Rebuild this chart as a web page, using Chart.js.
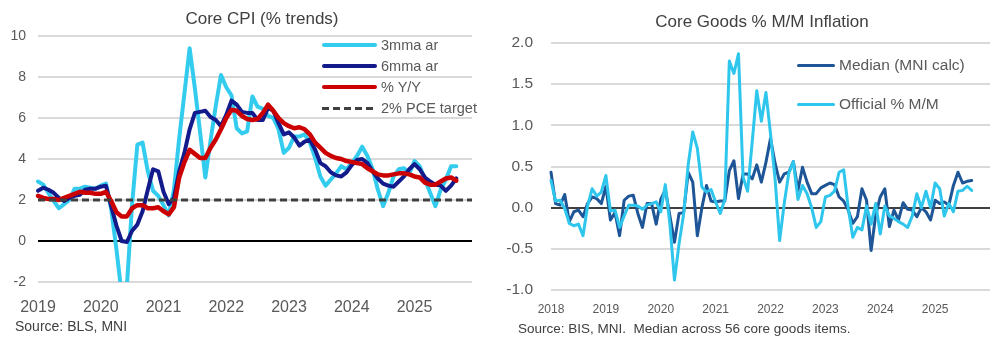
<!DOCTYPE html>
<html><head><meta charset="utf-8">
<script src="https://cdn.jsdelivr.net/npm/chart.js@4.4.1/dist/chart.umd.min.js"></script>
<style>
html,body{margin:0;padding:0;background:#fff;}
body{width:1002px;height:341px;position:relative;overflow:hidden;font-family:"Liberation Sans",Arial,sans-serif;}
#c1{position:absolute;left:0;top:0;}
#c2{position:absolute;left:500px;top:0;}
.title{position:absolute;font-size:17px;line-height:20px;color:#404040;text-align:center;white-space:nowrap;}
.src{position:absolute;line-height:16px;color:#404040;white-space:nowrap;}
.leg{position:absolute;height:20px;display:flex;align-items:center;color:#595959;white-space:nowrap;}
.leg .ln{display:inline-block;flex:none;}
</style></head><body>
<canvas id="c1" width="500" height="341"></canvas>
<canvas id="c2" width="502" height="341"></canvas>
<div class="title" style="left:112px;top:9px;width:300px;">Core CPI (% trends)</div>
<div class="title" style="left:612px;top:12px;width:300px;">Core Goods % M/M Inflation</div>
<div class="src" style="left:15px;top:318px;font-size:14px;">Source: BLS, MNI</div>
<div class="src" style="left:518px;top:321px;font-size:13.5px;">Source: BIS, MNI.&nbsp; Median across 56 core goods items.</div>
<div id="leg1"></div>
<div id="leg2"></div>
<script>
// ---------- Left chart data (monthly, Jan 2019 - Sep 2025) ----------
const leftStartYear = 2019;
const leftMonthCount = 84; // Jan 2019 .. Dec 2025 axis
const cpi3mmaAr = [
  2.9, 2.75, 2.35, 1.95, 1.6, 1.8, 2.0, 2.55, 2.55, 2.65, 2.6, 2.55,
  2.7, 2.8, 1.55, -0.4, -2.6, -2.2, 1.8, 4.7, 4.8, 3.4, 2.45, 2.2,
  1.75, 1.25, 2.5, 5.0, 7.2, 9.4, 7.45, 5.3, 3.1, 4.9, 6.6, 8.1,
  7.5, 7.1, 5.5, 5.25, 5.35, 7.05, 6.55, 6.45, 6.1, 6.0, 5.45, 4.3,
  4.55, 5.1, 5.1, 5.2, 4.8, 4.05, 3.15, 2.7, 3.0, 3.3, 3.65, 3.5,
  3.8, 4.15, 4.6, 4.15, 3.5, 2.5, 1.7, 2.35, 3.15, 3.5, 3.55, 3.3,
  3.9, 3.65, 3.0, 2.35, 1.7, 2.5, 3.0, 3.65, 3.65
];
const cpi6mmaAr = [
  2.45, 2.6, 2.5, 2.35, 2.1, 1.95, 2.1, 2.2, 2.25, 2.5, 2.55, 2.55,
  2.65, 2.7, 1.7, 0.75, 0.0, -0.05, 0.5, 0.8, 1.45, 2.5, 3.5, 3.4,
  2.4, 1.8, 2.1, 3.4, 4.3, 5.45, 6.25, 6.3, 6.35, 6.05, 5.9, 5.6,
  6.15, 6.85, 6.65, 6.3, 6.25, 6.25, 5.9, 5.9, 6.5, 6.35, 5.75, 5.2,
  5.3, 5.05, 4.65, 4.85, 4.95, 4.45, 3.8, 3.65, 3.35, 3.2, 3.15, 3.35,
  3.7, 3.95, 4.0, 3.8, 3.4, 3.05, 2.8, 2.7, 2.65, 2.9, 3.15, 3.5,
  3.75, 3.5, 3.1, 2.9, 2.75, 2.7, 2.45, 2.7, 3.05
];
const cpiYoY = [
  2.2, 2.1, 2.05, 2.05, 2.0, 2.1, 2.2, 2.3, 2.4, 2.35, 2.35, 2.3,
  2.3, 2.4, 1.95, 1.4, 1.2, 1.2, 1.6, 1.75, 1.75, 1.6, 1.6, 1.65,
  1.45, 1.3, 1.65, 3.1, 3.85, 4.45, 4.25, 4.05, 4.05, 4.55, 4.95, 5.45,
  6.0, 6.4, 6.35, 6.1, 5.95, 5.9, 5.95, 6.25, 6.65, 6.35, 6.0, 5.75,
  5.6, 5.5, 5.55, 5.45, 5.2, 4.8, 4.55, 4.3, 4.15, 4.05, 4.0, 3.9,
  3.85, 3.8, 3.75, 3.55, 3.4, 3.25, 3.2, 3.2, 3.25, 3.3, 3.3, 3.25,
  3.15, 3.1, 2.85, 2.75, 2.75, 2.9, 3.05, 3.1, 2.95
];
const pceTarget = 2;
const leftYTicks = [-2, 0, 2, 4, 6, 8, 10];

// ---------- Right chart data (monthly, Jan 2018 - Sep 2025) ----------
const rightStartYear = 2018;
const rightMonthCount = 97; // Jan 2018 .. Jan 2026 axis
const goodsMedian = [
  0.43, 0.05, 0.03, 0.16, -0.17, -0.05, -0.03, -0.11, 0.05, 0.13, 0.11, 0.05,
  0.26, -0.15, -0.06, -0.34, 0.09, 0.14, 0.15, -0.07, -0.24, 0.05, 0.05, -0.2,
  0.1, 0.22, -0.1, -0.42, -0.07, -0.06, 0.43, 0.31, -0.34, 0.0, 0.27, 0.08,
  0.07, 0.08, 0.08, 0.45, 0.57, 0.11, 0.41, 0.41, 0.35, 0.52, 0.31, 0.55,
  0.84, 0.54, 0.31, 0.41, 0.43, 0.56, 0.21, 0.49, 0.31, 0.17, 0.17, 0.24,
  0.27, 0.3, 0.28, 0.13, 0.08, -0.03, -0.19, -0.11, 0.23, 0.09, -0.52, -0.09,
  0.13, 0.23, -0.23, -0.03, -0.15, 0.06, -0.02, -0.03, -0.11, 0.0, -0.05, -0.15,
  0.09, 0.05, 0.07, 0.03, 0.27, 0.43, 0.3, 0.32, 0.33
];
const goodsOfficial = [
  0.33, 0.08, 0.09, -0.01, -0.19, -0.22, -0.2, -0.34, 0.02, 0.23, 0.14, 0.19,
  0.39, -0.04, -0.03, -0.24, -0.1, 0.03, 0.03, 0.02, -0.02, 0.03, 0.05, 0.07,
  -0.05, 0.28, -0.2, -0.88, -0.44, -0.08, 0.52, 0.92, 0.72, 0.25, 0.19, 0.22,
  0.07, -0.07, 0.1, 1.78, 1.63, 1.87, 0.37, 0.2, 0.8, 1.42, 1.05, 1.4,
  0.9, 0.35, -0.4, 0.05, 0.42, 0.56, 0.1, 0.27, 0.17, 0.0, -0.24, -0.17,
  0.13, 0.15, 0.2, 0.43, 0.46, 0.0, -0.36, -0.24, -0.27, 0.02, -0.2, 0.05,
  -0.32, 0.02, -0.1, -0.13, -0.17, -0.2, -0.24, -0.1, 0.17, 0.0, 0.2, 0.0,
  0.3, 0.23, -0.1, 0.05, -0.05, 0.2, 0.21, 0.26, 0.21
];
const rightYTicks = [-1.0, -0.5, 0.0, 0.5, 1.0, 1.5, 2.0];
const rightLastYearLabel = 2025;

// ---------- helpers ----------
function monthLabels(startYear, count) {
  const out = [];
  for (let i = 0; i < count; i++) {
    const y = startYear + Math.floor(i / 12);
    const m = (i % 12) + 1;
    out.push(y + '-' + (m < 10 ? '0' + m : m));
  }
  return out;
}
const leftLabels = monthLabels(leftStartYear, leftMonthCount);
const rightLabels = monthLabels(rightStartYear, rightMonthCount);

Chart.defaults.font.family = '"Liberation Sans", Arial, sans-serif';
Chart.defaults.color = '#595959';

const C_CYAN = '#33CCEE', C_NAVY = '#121A8C', C_RED = '#CC0000', C_DASH = '#404040';
const C_MED = '#1D5596', C_OFF = '#2EC6EC';

const leftSeries = [
  {label: '3mma ar', data: cpi3mmaAr, color: C_CYAN, width: 4},
  {label: '6mma ar', data: cpi6mmaAr, color: C_NAVY, width: 4},
  {label: '% Y/Y', data: cpiYoY, color: C_RED, width: 4.5},
  {label: '2% PCE target', data: leftLabels.map(() => pceTarget), color: C_DASH, width: 3, dash: [7, 4]}
];
const rightSeries = [
  {label: 'Median (MNI calc)', data: goodsMedian, color: C_MED, width: 3},
  {label: 'Official % M/M', data: goodsOfficial, color: C_OFF, width: 3}
];

function toDataset(s) {
  return {
    label: s.label, data: s.data, borderColor: s.color, backgroundColor: s.color,
    borderWidth: s.width, borderDash: s.dash || [], pointRadius: 0, tension: 0,
    borderJoinStyle: 'round', borderCapStyle: s.dash ? 'butt' : 'round',
    fill: false, clip: {left: 5, top: 5, right: 5, bottom: 0}
  };
}

// Left chart: Excel draws later series on top, Chart.js draws the first on top
new Chart(document.getElementById('c1'), {
  type: 'line',
  data: {labels: leftLabels, datasets: leftSeries.slice().reverse().map(toDataset)},
  options: {
    responsive: false, animation: false, devicePixelRatio: 1,
    layout: {padding: {left: 0, right: 28, top: 36, bottom: 24}},
    plugins: {legend: {display: false}, tooltip: {enabled: false}, title: {display: false}},
    scales: {
      x: {
        type: 'category',
        grid: {display: false, drawTicks: false},
        border: {display: false},
        ticks: {
          autoSkip: false, maxRotation: 0, minRotation: 0, padding: 16,
          color: '#595959', font: {size: 16},
          callback: function (v) { const l = this.getLabelForValue(v); return l.endsWith('-01') ? l.slice(0, 4) : ''; }
        },
        afterFit: s => { s.height = 35; }
      },
      y: {
        min: leftYTicks[0], max: leftYTicks[leftYTicks.length - 1],
        afterBuildTicks: s => { s.ticks = leftYTicks.map(v => ({value: v})); },
        ticks: {padding: 12, color: '#595959', font: {size: 14}, callback: v => String(v)},
        grid: {drawTicks: false, lineWidth: 2, color: c => (c.tick && c.tick.value === 0) ? '#000000' : '#D9D9D9'},
        border: {display: false},
        afterFit: s => { s.width = 38; }
      }
    }
  }
});

new Chart(document.getElementById('c2'), {
  type: 'line',
  data: {labels: rightLabels, datasets: rightSeries.slice().reverse().map(toDataset)},
  options: {
    responsive: false, animation: false, devicePixelRatio: 1,
    layout: {padding: {left: 0, right: 7, top: 43, bottom: 21}},
    plugins: {legend: {display: false}, tooltip: {enabled: false}, title: {display: false}},
    scales: {
      x: {
        type: 'category',
        grid: {display: false, drawTicks: false},
        border: {display: false},
        ticks: {
          autoSkip: false, maxRotation: 0, minRotation: 0, padding: 12,
          color: '#595959', font: {size: 12},
          callback: function (v) {
            const l = this.getLabelForValue(v);
            const yr = +l.slice(0, 4);
            return (l.endsWith('-01') && yr <= rightLastYearLabel) ? String(yr) : '';
          }
        },
        afterFit: s => { s.height = 30; }
      },
      y: {
        min: rightYTicks[0], max: rightYTicks[rightYTicks.length - 1],
        afterBuildTicks: s => { s.ticks = rightYTicks.map(v => ({value: v})); },
        ticks: {padding: 18, color: '#595959', font: {size: 15.5}, callback: v => Number(v).toFixed(1)},
        grid: {drawTicks: false, lineWidth: 2, color: c => (c.tick && c.tick.value === 0) ? '#404040' : '#D9D9D9'},
        border: {display: false},
        afterFit: s => { s.width = 51; }
      }
    }
  }
});

// ---------- legends (HTML text) ----------
function buildLegend(el, series, x, rows, lineLen, gap, fontSize) {
  series.forEach((s, i) => {
    const row = document.createElement('div');
    row.className = 'leg';
    row.style.left = x + 'px';
    row.style.top = (rows[i] - 10) + 'px';
    row.style.fontSize = fontSize + 'px';
    const ln = document.createElement('span');
    ln.className = 'ln';
    ln.style.width = lineLen + 'px';
    ln.style.marginRight = gap + 'px';
    ln.style.height = s.width + 'px';
    if (s.dash) {
      ln.style.background = 'repeating-linear-gradient(to right,' + s.color + ' 0 ' + s.dash[0] + 'px, transparent ' + s.dash[0] + 'px ' + (s.dash[0] + s.dash[1]) + 'px)';
    } else {
      ln.style.background = s.color;
      ln.style.borderRadius = (s.width / 2) + 'px';
    }
    const tx = document.createElement('span');
    tx.textContent = s.label;
    row.appendChild(ln);
    row.appendChild(tx);
    el.appendChild(row);
  });
}
buildLegend(document.getElementById('leg1'), leftSeries, 322, [45, 66, 87, 108], 55, 4, 14.5);
buildLegend(document.getElementById('leg2'), rightSeries, 797, [65, 104], 38, 4, 15.5);
</script>
</body></html>
